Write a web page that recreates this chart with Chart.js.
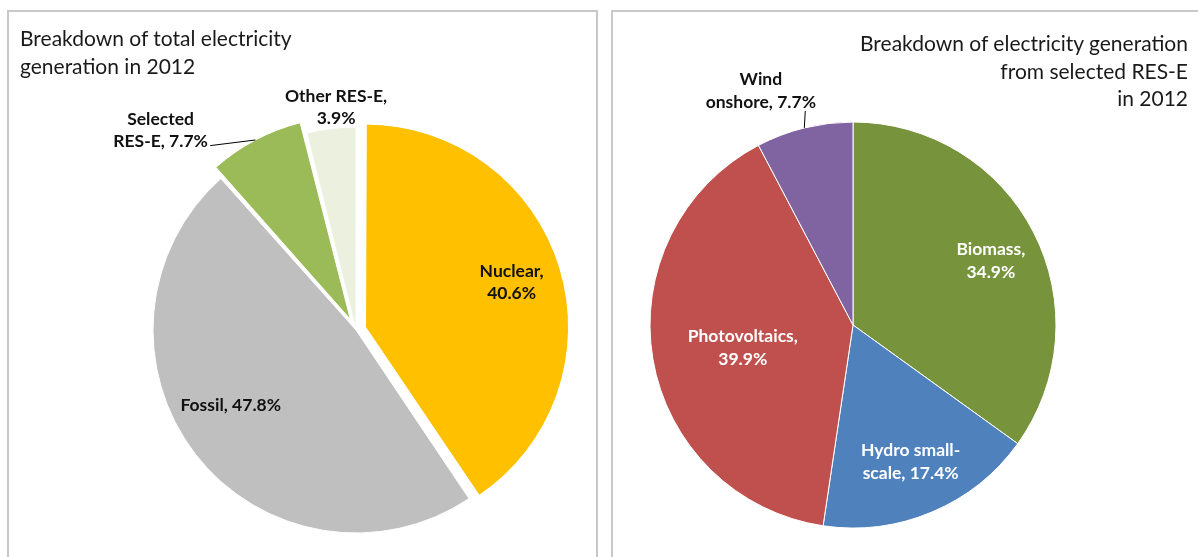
<!DOCTYPE html>
<html>
<head>
<meta charset="utf-8">
<script src="https://cdn.jsdelivr.net/npm/chart.js@4.4.1/dist/chart.umd.min.js"></script>
<style>
  html, body { margin: 0; padding: 0; background: #fff; width: 1198px; height: 557px; overflow: hidden; }
  .panel { position: absolute; border: 2px solid #c8c8c8; box-sizing: border-box; background: #fff; }
  #panelTotal { left: 7px; top: 10px; width: 591px; height: 600px; }
  #panelRes { left: 611px; top: 10px; width: 640px; height: 600px; }
  canvas { position: absolute; }
  #cTotal { left: 9px; top: 12px; }
  #cRes { left: 613px; top: 12px; }
  .title { position: absolute; font-family: Lato, "Open Sans", sans-serif; font-size: 21px; line-height: 27.5px; color: #1a1a1a; white-space: nowrap; }
  #tTotal { left: 20px; top: 24px; text-align: left; }
  #tRes { right: 10px; top: 29px; text-align: right; }
</style>
</head>
<body>
<div class="panel" id="panelTotal"></div>
<div class="panel" id="panelRes"></div>
<canvas id="cTotal" width="587" height="545"></canvas>
<canvas id="cRes" width="585" height="545"></canvas>
<div class="title" id="tTotal">Breakdown of total electricity<br>generation in 2012</div>
<div class="title" id="tRes">Breakdown of electricity generation<br>from selected RES-E<br>in 2012</div>
<script>
// Total electricity generation in 2012 (%)
const totalCategories = ['Nuclear', 'Fossil', 'Selected RES-E', 'Other RES-E'];
const totalShares = [40.6, 47.8, 7.7, 3.9];
const totalColors = ['#FFC000', '#BFBFBF', '#9BBB59', '#EBF1DE'];

// Generation from selected RES-E in 2012 (%)
const resCategories = ['Biomass', 'Hydro small-scale', 'Photovoltaics', 'Wind onshore'];
const resShares = [34.9, 17.4, 39.9, 7.7];
const resColors = ['#77933C', '#4F81BD', '#C0504D', '#8064A2'];

const LABEL_FONT = 'bold 17.5px Lato, "Open Sans", sans-serif';

// Splits "Hydro small-scale, 17.4%" into tokens that can wrap at spaces or after a hyphen in a word
function labelLines(category, value, breakAfter) {
  const text = category + ', ' + value.toFixed(1) + '%';
  const tokens = [];
  text.split(' ').forEach(word => {
    word.split(/(?<=-)(?=[a-z])/).forEach(p => tokens.push(p));
  });
  const join = arr => arr.reduce((s, t, k) => k === 0 ? t : (arr[k - 1].endsWith('-') ? s + t : s + ' ' + t), '');
  if (!breakAfter) return [join(tokens)];
  return [join(tokens.slice(0, breakAfter)), join(tokens.slice(breakAfter))];
}

// Chart.js grows the radius of an offset arc; keep every slice on the same radius
const evenRadius = {
  id: 'evenRadius',
  afterDatasetUpdate(chart, args) {
    const R = args.meta.controller.outerRadius;
    args.meta.data.forEach(arc => {
      const shift = (arc.options.offset || 0) / 4;
      const fix = 1 - Math.sin(Math.min(Math.PI, arc.circumference));
      arc.outerRadius = R - shift * fix;
    });
  }
};

// Slice labels: placed along each slice's bisector (r = fraction of radius, turn = degrees)
const sliceLabels = {
  id: 'sliceLabels',
  afterDatasetsDraw(chart, args, opts) {
    const { ctx } = chart;
    const meta = chart.getDatasetMeta(0);
    const R = meta.controller.outerRadius;
    const cats = chart.data.labels;
    const vals = chart.data.datasets[0].data;
    ctx.save();
    ctx.font = opts.font;
    ctx.strokeStyle = '#000';
    ctx.lineWidth = 1;
    ctx.textAlign = 'center';
    ctx.textBaseline = 'middle';
    meta.data.forEach((arc, i) => {
      const spec = opts.place[i];
      const mid = (arc.startAngle + arc.endAngle) / 2;
      const shift = (arc.options.offset || 0) / 4;
      const ox = arc.x + Math.cos(mid) * shift;
      const oy = arc.y + Math.sin(mid) * shift;
      const polar = (r, turn) => {
        const a = mid + (turn || 0) * Math.PI / 180;
        return [ox + Math.cos(a) * r * R, oy + Math.sin(a) * r * R];
      };
      const [tx, ty] = polar(spec.r, spec.turn);
      const lines = labelLines(cats[i], vals[i], spec.breakAfter);
      ctx.fillStyle = spec.color || opts.color;
      lines.forEach((ln, k) => {
        ctx.fillText(ln, tx, ty + (k - (lines.length - 1) / 2) * opts.lineHeight);
      });
      if (spec.leader) {
        const [x0, y0] = polar(spec.leader[0].r, spec.leader[0].turn);
        const [x1, y1] = polar(spec.leader[1].r, spec.leader[1].turn);
        ctx.beginPath();
        ctx.moveTo(x0, y0);
        ctx.lineTo(x1, y1);
        ctx.stroke();
      }
    });
    ctx.restore();
  }
};

// Padding that puts the chart area's centre at (cx, cy) inside a w x h canvas
function centredPadding(cx, cy, w, h) {
  const hx = Math.min(cx, w - cx), hy = Math.min(cy, h - cy);
  return { left: cx - hx, right: w - cx - hx, top: cy - hy, bottom: h - cy - hy };
}

function pieChart(id, cats, vals, colors, offsets, centre, radius, labelOpts) {
  const canvas = document.getElementById(id);
  return new Chart(canvas, {
    type: 'pie',
    data: {
      labels: cats,
      datasets: [{
        data: vals,
        backgroundColor: colors,
        borderColor: '#ffffff',
        borderWidth: 1,
        offset: offsets
      }]
    },
    options: {
      responsive: false,
      animation: false,
      radius: radius,
      layout: { padding: centredPadding(centre[0], centre[1], canvas.width, canvas.height) },
      plugins: {
        legend: { display: false },
        tooltip: { enabled: false },
        sliceLabels: labelOpts
      }
    },
    plugins: [evenRadius, sliceLabels]
  });
}

pieChart('cTotal', totalCategories, totalShares, totalColors, [40, 0, 48, 0], [347, 318], 203, {
  font: LABEL_FONT,
  color: '#111111',
  lineHeight: 22,
  place: [
    { r: 0.752, turn: 0, breakAfter: 1 },
    { r: 0.72, turn: 6.8 },
    { r: 1.32, turn: -17.2, breakAfter: 1,
      leader: [{ r: 1.10, turn: -11 }, { r: 1.0, turn: 0 }] },
    { r: 1.10, turn: 1.9, breakAfter: 2 }
  ]
});

pieChart('cRes', resCategories, resShares, resColors, [0, 0, 0, 0], [240, 313], 203, {
  font: LABEL_FONT,
  color: '#ffffff',
  lineHeight: 23,
  place: [
    { r: 0.75, turn: 2, breakAfter: 1 },
    { r: 0.73, turn: 0, breakAfter: 2 },
    { r: 0.555, turn: -2.3, breakAfter: 1 },
    { r: 1.24, turn: -7.6, breakAfter: 1, color: '#111111',
      leader: [{ r: 1.08, turn: 1.3 }, { r: 1.0, turn: 0 }] }
  ]
});
</script>
</body>
</html>
